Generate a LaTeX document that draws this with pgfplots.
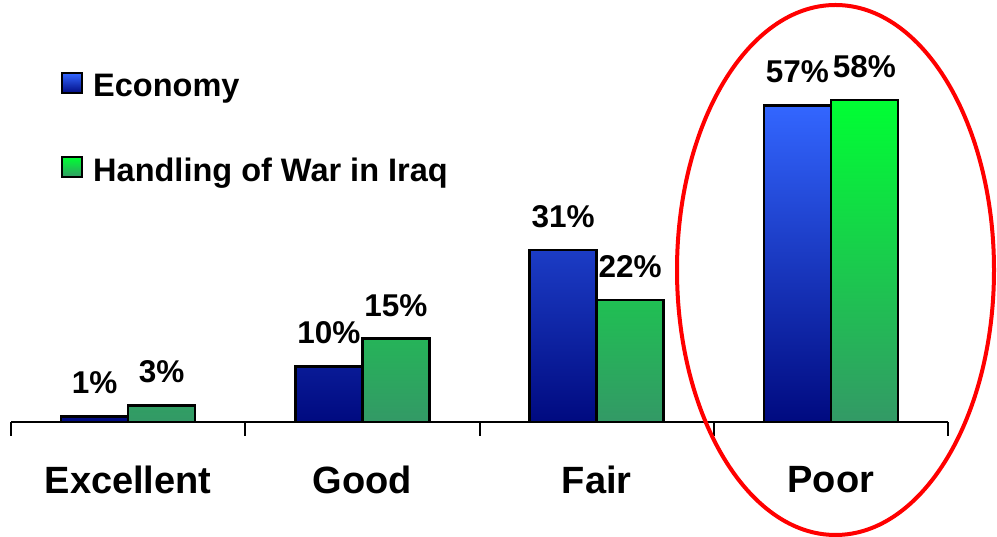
\documentclass[border=0pt]{standalone}
\usepackage{pgfplots}
\pgfplotsset{compat=1.18}
\usepackage{fontspec}
\setmainfont{Liberation Sans}
\definecolor{blueTop}{HTML}{3366FF}
\definecolor{blueBot}{HTML}{000A80}
\definecolor{greenTop}{HTML}{00FF33}
\definecolor{greenBot}{HTML}{339966}
\begin{document}
\begin{tikzpicture}
\path[use as bounding box] (0pt,0pt) rectangle (997pt,537pt);
\begin{axis}[
  at={(11pt,115pt)}, anchor=south west,
  scale only axis, width=937pt, height=422pt,
  xmin=-0.5, xmax=3.5, ymin=0, ymax=76,
  ybar=0pt, bar width=67pt,
  hide y axis,
  axis x line*=bottom,
  x axis line style={line width=2.2pt, black},
  tick align=outside,
  xtick={0,1,2,3}, xticklabels={Excellent,Good,Fair,Poor},
  major tick length=0pt,
  extra x ticks={-0.5,0.5,1.5,2.5,3.5}, extra x tick labels={},
  extra x tick style={major tick length=14pt, tick style={line width=2pt, black}},
  xticklabel style={font=\fontsize{38}{40}\selectfont\bfseries, inner sep=0pt, anchor=north, yshift=-44pt},
  /pgf/number format/assume math mode=true,
  nodes near coords={\pgfmathprintnumber{\pgfplotspointmeta}\%},
  every node near coord/.append style={font=\fontsize{31.5}{33}\selectfont\bfseries, inner sep=0pt, anchor=south, yshift=21pt, black},
  every axis plot post/.append style={line width=2.5pt, draw=black},
  legend image code/.code={\fill[#1, draw=black, line width=2pt] (0pt,-7pt) rectangle (20pt,13pt); \path[draw=none, fill=none, shade=none] (0pt,-10pt) rectangle (31pt,10pt);},
  legend style={at={(rel axis cs:0.0534,0.829)}, anchor=north west, draw=none, fill=none, inner sep=0pt, row sep=58pt, font=\fontsize{32.5}{34}\selectfont\bfseries, nodes={inner sep=0pt}},
  legend cell align=left,
  clip=false,
]
\addplot[top color=blueTop, bottom color=blueBot, draw=black, line width=2.5pt] coordinates {(0,1) (1,10) (2,31) (3,57)};
\addplot[top color=greenTop, bottom color=greenBot, draw=black, line width=2.5pt] coordinates {(0,3) (1,15) (2,22) (3,58)};
\legend{Economy, Handling of War in Iraq}
\end{axis}
\draw[red, line width=4pt] (835.5pt,267pt) ellipse [x radius=158.5pt, y radius=265pt];
\end{tikzpicture}
\end{document}
